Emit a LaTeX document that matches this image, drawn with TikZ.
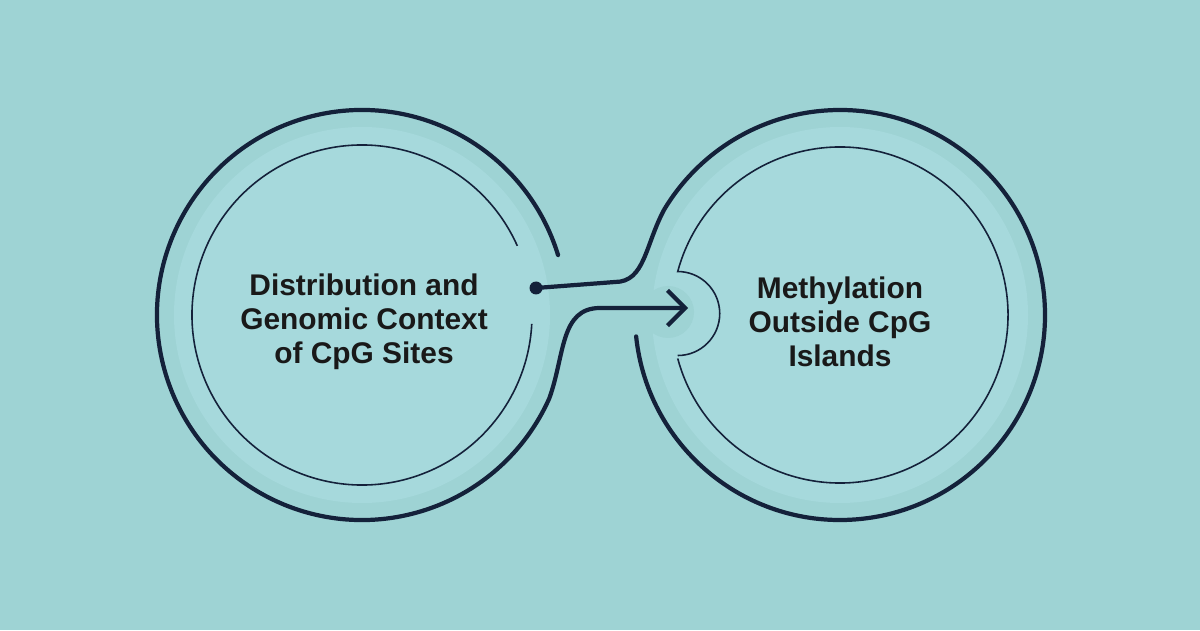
\documentclass[tikz,border=0pt]{standalone}
\usepackage{fontspec}
\setmainfont{Liberation Sans}
\usetikzlibrary{arrows.meta}
\definecolor{bgteal}{HTML}{9ED3D4}
\definecolor{lightteal}{HTML}{A6D9DC}
\definecolor{inkdark}{HTML}{14213A}
\begin{document}
\begin{tikzpicture}[x=0.01cm,y=0.01cm,
    ring/.style={draw=inkdark, line width=1.2pt, line cap=round},
    thinring/.style={draw=inkdark, line width=0.45pt},
    label/.style={font=\bfseries\fontsize{8.5}{9.6}\selectfont, text=black!90, align=center}
  ]
  % background
  \fill[bgteal] (0,0) rectangle (1200,630);
  \useasboundingbox (0,0) rectangle (1200,630);

  % centres
  \coordinate (lc) at (362,315);
  \coordinate (rc) at (840,315);

  % discs
  \fill[lightteal] (lc) circle (188);
  \fill[lightteal] (rc) circle (188);
  \fill[bgteal] (668,318) circle (26);

  % inner thin rings
  \draw[thinring] (lc) ++(24:170) arc[start angle=24, end angle=357, radius=170];
  \draw[thinring] (rc) ++(195:168) arc[start angle=195, end angle=525, radius=168]
     arc[start angle=90, end angle=-90, radius=42];

  % outer ring, left, running into the arrow
  \coordinate (dot) at (536,342);
  \coordinate (tip) at (688,322);
  \draw[ring, -{Straight Barb[length=5pt,width=10pt]}]
     (lc) ++(17:205) arc[start angle=17, end angle=336, radius=205]
     .. controls (565,275) and (560,322) .. (600,322) -- (tip);

  % outer ring, right, coming from the dot
  \draw[ring] (rc) ++(186:205) arc[start angle=186, end angle=509, radius=205]
     .. controls (645,385) and (645,348) .. (615,348) -- (dot);
  \fill[inkdark] (dot) circle (6.5);

  % labels
  \node[label] (cpgsites) at (364,308) {Distribution and\\Genomic Context\\of CpG Sites};
  \node[label] (outside) at (840,308) {Methylation\\Outside CpG\\Islands};
\end{tikzpicture}
\end{document}
